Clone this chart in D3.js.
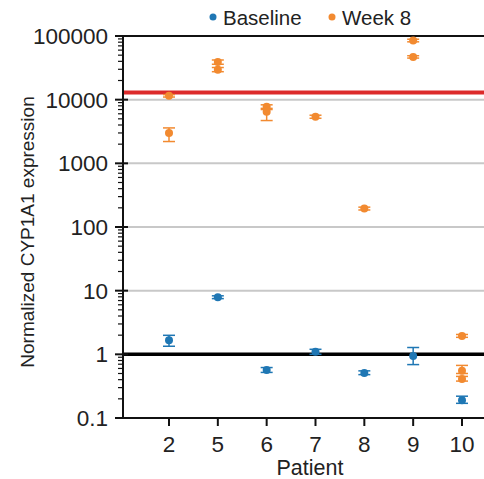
<!DOCTYPE html>
<meta charset="utf-8">
<html>
<head>
  <title>CYP1A1 expression</title>
  <script src="https://d3js.org/d3.v7.min.js"></script>
</head>
<style>
  body { margin: 0; background: #fff; }
  text { font-family: 'Liberation Sans', Arial, sans-serif; fill: #222; }
</style>
<body>
<script>

  // data
  var patients = ["2", "5", "6", "7", "8", "9", "10"];

  var baseVal = [1.66, 7.9, 0.57, 1.10, 0.51, 0.94, 0.19];
  var baseLo  = [1.34, 7.5, 0.52, 1.00, 0.48, 0.69, 0.17];
  var baseHi  = [1.99, 8.3, 0.62, 1.20, 0.55, 1.28, 0.22];

  var weekPatient = ["2", "2", "5", "5", "6", "6", "7", "8", "9", "9", "10", "10", "10"];
  var weekVal = [11500, 2990, 39000, 29600, 7760, 6450, 5400, 196, 85000, 47000, 1.94, 0.55, 0.41];
  var weekLo  = [11000, 2200, 36000, 27500, 7300, 4700, 5100, 185, 81000, 45000, 1.85, 0.50, 0.38];
  var weekHi  = [12000, 3600, 42000, 32000, 8300, 7000, 5700, 205, 89000, 49000, 2.05, 0.67, 0.45];

  var yTicks = [0.1, 1, 10, 100, 1000, 10000, 100000];
  var threshold = 13000;
  var reference = 1;

  var blue = "#1f77b4", orange = "#f28a30";

  var svg = d3.select("body").append("svg")
      .attr("width", 484)
      .attr("height", 479);

  var x = d3.scalePoint().domain(patients).range([169, 462]);
  var y = d3.scaleLog().domain([0.1, 100000]).range([418, 36]);
  var left = 123, right = 484;

  //gridlines
  svg.selectAll(".grid")
    .data(yTicks.filter(function (d) { return d > 1 && d < 100000; }))
    .enter().append("line")
      .attr("x1", left).attr("x2", right)
      .attr("y1", function (d) { return y(d); })
      .attr("y2", function (d) { return y(d); })
      .attr("stroke", "#c8c8c8")
      .attr("stroke-width", 2);

  //top border
  svg.append("line")
    .attr("x1", left).attr("x2", right)
    .attr("y1", y(100000)).attr("y2", y(100000))
    .attr("stroke", "#111").attr("stroke-width", 2);

  //threshold + reference lines
  svg.append("line")
    .attr("x1", left).attr("x2", right)
    .attr("y1", y(threshold)).attr("y2", y(threshold))
    .attr("stroke", "#dc2a2a").attr("stroke-width", 4);

  svg.append("line")
    .attr("x1", left).attr("x2", right)
    .attr("y1", y(reference)).attr("y2", y(reference))
    .attr("stroke", "#000").attr("stroke-width", 3.5);

  //y axis with minor ticks
  var minor = [];
  yTicks.slice(0, -1).forEach(function (t) {
    for (var k = 2; k <= 9; k++) minor.push(t * k);
  });

  var yAxis = svg.append("g").attr("transform", "translate(" + left + ",0)");
  yAxis.append("line")
    .attr("y1", y(0.1)).attr("y2", y(100000))
    .attr("stroke", "#111").attr("stroke-width", 2);
  yAxis.selectAll(".minor").data(minor).enter().append("line")
    .attr("x1", -5).attr("x2", 0)
    .attr("y1", function (d) { return y(d); })
    .attr("y2", function (d) { return y(d); })
    .attr("stroke", "#111").attr("stroke-width", 1.2);
  yAxis.selectAll(".major").data(yTicks).enter().append("line")
    .attr("x1", -8).attr("x2", 5)
    .attr("y1", function (d) { return y(d); })
    .attr("y2", function (d) { return y(d); })
    .attr("stroke", "#111").attr("stroke-width", 2);
  yAxis.selectAll(".ylab").data(yTicks).enter().append("text")
    .attr("x", -15)
    .attr("y", function (d) { return y(d) + 8; })
    .attr("text-anchor", "end")
    .attr("font-size", 22.5)
    .text(function (d) { return d3.format("~f")(d); });

  //x axis
  var xAxis = svg.append("g").attr("transform", "translate(0," + y(0.1) + ")");
  xAxis.append("line")
    .attr("x1", left).attr("x2", right)
    .attr("stroke", "#111").attr("stroke-width", 2);
  xAxis.selectAll(".xt").data(patients).enter().append("line")
    .attr("x1", function (d) { return x(d); })
    .attr("x2", function (d) { return x(d); })
    .attr("y1", 0).attr("y2", 8)
    .attr("stroke", "#111").attr("stroke-width", 2);
  xAxis.selectAll(".xlab").data(patients).enter().append("text")
    .attr("x", function (d) { return x(d); })
    .attr("y", 34)
    .attr("text-anchor", "middle")
    .attr("font-size", 22.5)
    .text(function (d) { return d; });

  svg.append("text")
    .attr("x", 310).attr("y", 475)
    .attr("text-anchor", "middle")
    .attr("font-size", 21.5)
    .text("Patient");

  svg.append("text")
    .attr("transform", "translate(34,232) rotate(-90)")
    .attr("text-anchor", "middle")
    .attr("font-size", 19)
    .text("Normalized CYP1A1 expression");

  //points with error bars
  function drawSeries(cls, keys, vals, lo, hi, color) {
    var data = vals.map(function (v, i) {
      return { p: keys[i], v: v, lo: lo[i], hi: hi[i] };
    });
    var g = svg.selectAll("." + cls).data(data).enter().append("g")
      .attr("class", cls);
    g.append("line")
      .attr("x1", function (d) { return x(d.p); })
      .attr("x2", function (d) { return x(d.p); })
      .attr("y1", function (d) { return y(d.lo); })
      .attr("y2", function (d) { return y(d.hi); })
      .attr("stroke", color).attr("stroke-width", 1.5);
    ["lo", "hi"].forEach(function (k) {
      g.append("line")
        .attr("x1", function (d) { return x(d.p) - 6; })
        .attr("x2", function (d) { return x(d.p) + 6; })
        .attr("y1", function (d) { return y(d[k]); })
        .attr("y2", function (d) { return y(d[k]); })
        .attr("stroke", color).attr("stroke-width", 1.5);
    });
    g.append("circle")
      .attr("cx", function (d) { return x(d.p); })
      .attr("cy", function (d) { return y(d.v); })
      .attr("r", 4)
      .attr("fill", color);
  }

  drawSeries("base", patients, baseVal, baseLo, baseHi, blue);
  drawSeries("week", weekPatient, weekVal, weekLo, weekHi, orange);

  //legend
  var legend = [["Baseline", blue, 213], ["Week 8", orange, 332]];
  legend.forEach(function (l) {
    svg.append("circle").attr("cx", l[2]).attr("cy", 17).attr("r", 3.5).attr("fill", l[1]);
    svg.append("text").attr("x", l[2] + 10).attr("y", 24.5)
      .attr("font-size", 20.5).text(l[0]);
  });

</script>
</body>
</html>
